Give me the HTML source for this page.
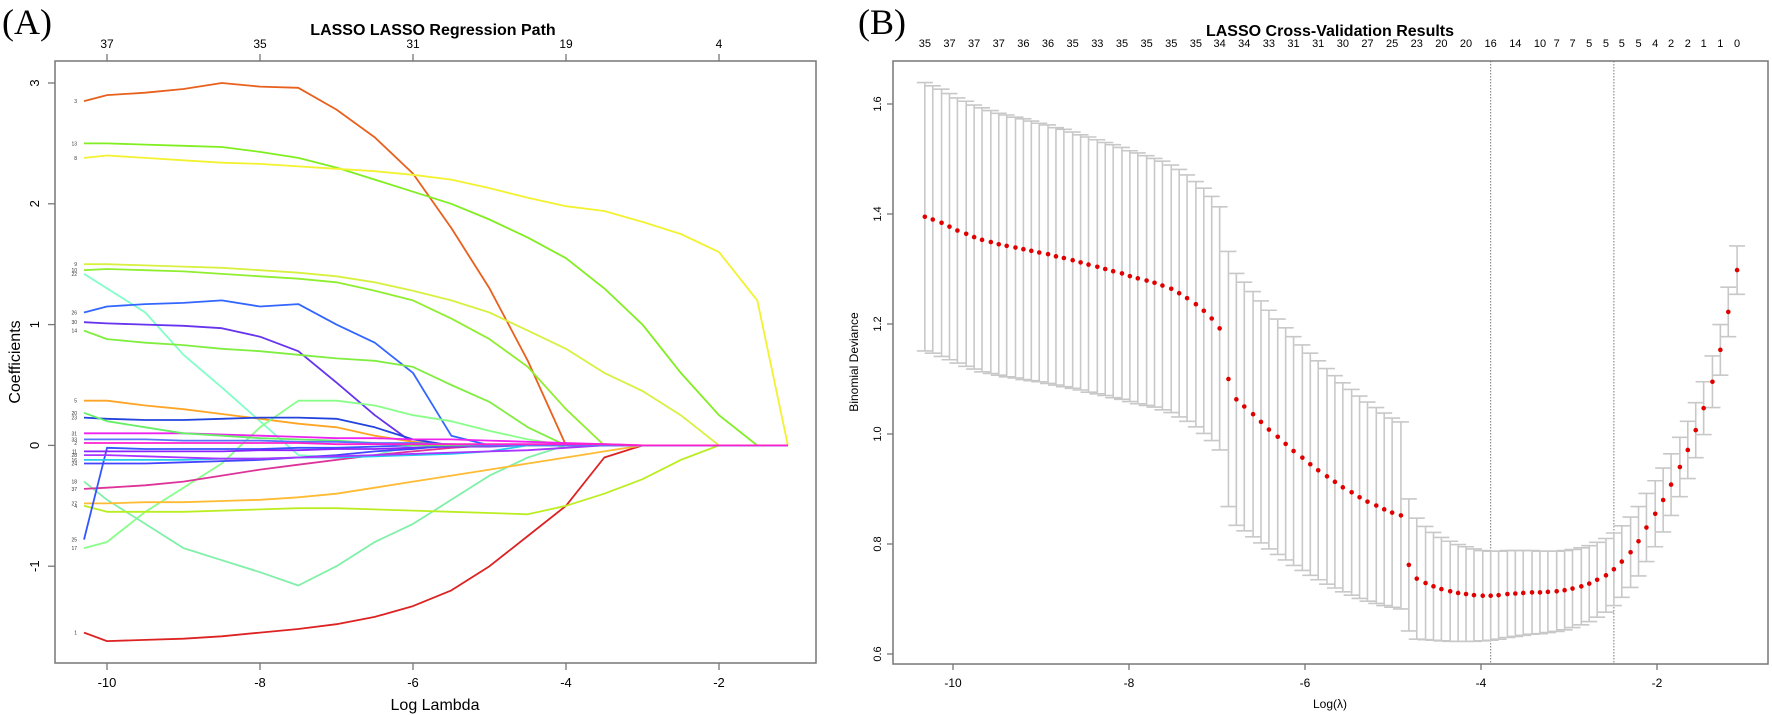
<!DOCTYPE html>
<html><head><meta charset="utf-8"><style>
html,body{margin:0;padding:0;background:#fff;}
svg{display:block;font-family:"Liberation Sans",Arial,sans-serif;}
</style></head><body>
<svg id="chart" width="1772" height="715" viewBox="0 0 1772 715" xmlns="http://www.w3.org/2000/svg">
<text x="2" y="34" font-family="Liberation Serif,serif" font-size="36">(A)</text>
<text x="858" y="34" font-family="Liberation Serif,serif" font-size="36">(B)</text>
<text x="433" y="35" font-size="16" font-weight="bold" text-anchor="middle">LASSO LASSO Regression Path</text>
<text x="1330" y="36" font-size="16" font-weight="bold" text-anchor="middle">LASSO Cross-Validation Results</text>
<text x="435" y="710" font-size="16" text-anchor="middle">Log Lambda</text>
<text x="1330" y="708" font-size="12" text-anchor="middle">Log(λ)</text>
<text transform="translate(20,362) rotate(-90)" font-size="16" text-anchor="middle">Coefficients</text>
<text transform="translate(858,362) rotate(-90)" font-size="12" text-anchor="middle">Binomial Deviance</text>
<g id="gA"></g>
<g id="gB"></g>
</svg>
<script>
// ---------- Panel A data ----------
const knotsA = [-10.3,-10,-9.5,-9,-8.5,-8,-7.5,-7,-6.5,-6,-5.5,-5,-4.5,-4,-3.5,-3,-2.5,-2,-1.5,-1.1];
const xTicksA = [-10,-8,-6,-4,-2];
const yTicksA = [3,2,1,0,-1];
const topTicksA = [-10,-8,-6,-4,-2];
const topLabelsA = ["37","35","31","19","4"];
const varNames = ["3","13","8","9","10","22","26","30","14","5","17","18","1","4","27","37","25","23","31","11","24","16","20","28","33","2"];
const varColors = ["#e8601c","#80ee20","#f2f230","#d8f040","#90ee30","#80ffc8","#3366ff","#6633ee","#80ee40","#ffa526","#88ff88","#80f0a8","#dd2222","#bbee22","#ffbb33","#dd3399","#3355ff","#2244dd","#ee22ee","#8822ff","#4444ff","#22ccee","#66ee66","#aa33ff","#5577ff","#ff22cc"];
const coef0 = [2.85,2.9,2.92,2.95,3.0,2.97,2.96,2.78,2.55,2.25,1.8,1.3,0.7,0,0,0,0,0,0,0];
const coef1 = [2.5,2.5,2.49,2.48,2.47,2.43,2.38,2.3,2.2,2.1,2.0,1.87,1.72,1.55,1.3,1.0,0.6,0.25,0,0];
const coef2 = [2.38,2.4,2.38,2.36,2.34,2.33,2.31,2.29,2.27,2.24,2.2,2.13,2.05,1.98,1.94,1.85,1.75,1.6,1.2,0];
const coef3 = [1.5,1.5,1.49,1.48,1.47,1.45,1.43,1.4,1.35,1.28,1.2,1.1,0.95,0.8,0.6,0.45,0.25,0,0,0];
const coef4 = [1.45,1.46,1.45,1.44,1.42,1.4,1.38,1.35,1.28,1.2,1.05,0.88,0.65,0.3,0,0,0,0,0,0];
const coef5 = [1.42,1.3,1.1,0.75,0.48,0.2,-0.08,-0.1,-0.08,0,0,0,0,0,0,0,0,0,0,0];
const coef6 = [1.1,1.15,1.17,1.18,1.2,1.15,1.17,1.0,0.85,0.6,0.08,0,0,0,0,0,0,0,0,0];
const coef7 = [1.02,1.01,1.0,0.99,0.97,0.9,0.78,0.52,0.25,0.02,0,0,0,0,0,0,0,0,0,0];
const coef8 = [0.95,0.88,0.85,0.83,0.8,0.78,0.75,0.72,0.7,0.65,0.5,0.36,0.15,0,0,0,0,0,0,0];
const coef9 = [0.37,0.37,0.33,0.3,0.26,0.22,0.18,0.15,0.08,0.03,0,0,0,0,0,0,0,0,0,0];
const coef10 = [-0.85,-0.8,-0.55,-0.35,-0.15,0.15,0.37,0.37,0.33,0.25,0.2,0.12,0.05,0,0,0,0,0,0,0];
const coef11 = [-0.3,-0.45,-0.65,-0.85,-0.95,-1.05,-1.16,-1.0,-0.8,-0.65,-0.45,-0.25,-0.1,0,0,0,0,0,0,0];
const coef12 = [-1.55,-1.62,-1.61,-1.6,-1.58,-1.55,-1.52,-1.48,-1.42,-1.33,-1.2,-1.0,-0.75,-0.5,-0.1,0,0,0,0,0];
const coef13 = [-0.5,-0.55,-0.55,-0.55,-0.54,-0.53,-0.52,-0.52,-0.53,-0.54,-0.55,-0.56,-0.57,-0.5,-0.4,-0.28,-0.12,0,0,0];
const coef14 = [-0.48,-0.48,-0.47,-0.47,-0.46,-0.45,-0.43,-0.4,-0.35,-0.3,-0.25,-0.2,-0.15,-0.1,-0.05,0,0,0,0,0];
const coef15 = [-0.36,-0.35,-0.33,-0.3,-0.25,-0.2,-0.16,-0.12,-0.08,-0.05,-0.02,0,0,0,0,0,0,0,0,0];
const coef16 = [-0.78,-0.02,-0.03,-0.03,-0.03,-0.03,-0.02,-0.02,-0.01,0,0,0,0,0,0,0,0,0,0,0];
const coef17 = [0.23,0.22,0.21,0.21,0.22,0.23,0.23,0.22,0.15,0.05,0,0,0,0,0,0,0,0,0,0];
const coef18 = [0.1,0.1,0.1,0.1,0.09,0.08,0.07,0.06,0.06,0.05,0.05,0.04,0.03,0.02,0.01,0,0,0,0,0];
const coef19 = [-0.05,-0.05,-0.05,-0.05,-0.05,-0.04,-0.04,-0.03,-0.03,-0.02,-0.01,-0.01,0,0,0,0,0,0,0,0];
const coef20 = [-0.15,-0.15,-0.15,-0.14,-0.13,-0.12,-0.1,-0.08,-0.05,-0.03,0,0,0,0,0,0,0,0,0,0];
const coef21 = [-0.12,-0.12,-0.12,-0.12,-0.11,-0.11,-0.1,-0.1,-0.09,-0.08,-0.07,-0.05,0,0,0,0,0,0,0,0];
const coef22 = [0.27,0.2,0.15,0.1,0.08,0.06,0.05,0.04,0.02,0,0,0,0,0,0,0,0,0,0,0];
const coef23 = [-0.08,-0.08,-0.09,-0.1,-0.11,-0.11,-0.1,-0.09,-0.08,-0.07,-0.06,-0.05,-0.04,-0.02,0,0,0,0,0,0];
const coef24 = [0.05,0.05,0.05,0.04,0.04,0.04,0.03,0.03,0.02,0.02,0.01,0,0,0,0,0,0,0,0,0];
const coef25 = [0.02,0.02,0.02,0.02,0.02,0.02,0.02,0.01,0.01,0.01,0.01,0.01,0.01,0.01,0.01,0,0,0,0,0];
const coefsA = [coef0,coef1,coef2,coef3,coef4,coef5,coef6,coef7,coef8,coef9,coef10,coef11,coef12,coef13,coef14,coef15,coef16,coef17,coef18,coef19,coef20,coef21,coef22,coef23,coef24,coef25];

// ---------- Panel B data ----------
const logLambda = [-10.32,-10.23,-10.13,-10.04,-9.95,-9.85,-9.76,-9.67,-9.57,-9.48,-9.39,-9.29,-9.20,-9.11,-9.02,-8.92,-8.83,-8.74,-8.64,-8.55,-8.46,-8.36,-8.27,-8.18,-8.08,-7.99,-7.90,-7.80,-7.71,-7.62,-7.52,-7.43,-7.34,-7.24,-7.15,-7.06,-6.97,-6.87,-6.78,-6.69,-6.59,-6.50,-6.41,-6.31,-6.22,-6.13,-6.03,-5.94,-5.85,-5.75,-5.66,-5.57,-5.47,-5.38,-5.29,-5.19,-5.10,-5.01,-4.91,-4.82,-4.73,-4.63,-4.54,-4.45,-4.35,-4.26,-4.17,-4.08,-3.98,-3.89,-3.80,-3.70,-3.61,-3.52,-3.42,-3.33,-3.24,-3.14,-3.05,-2.96,-2.86,-2.77,-2.68,-2.58,-2.49,-2.40,-2.30,-2.21,-2.12,-2.02,-1.93,-1.84,-1.74,-1.65,-1.56,-1.47,-1.37,-1.28,-1.19,-1.09];
const cvMean = [1.395,1.390,1.384,1.377,1.370,1.364,1.358,1.353,1.349,1.345,1.342,1.339,1.336,1.333,1.330,1.327,1.323,1.320,1.316,1.312,1.308,1.304,1.300,1.296,1.292,1.287,1.283,1.279,1.275,1.270,1.264,1.256,1.247,1.236,1.224,1.210,1.192,
1.100,1.063,1.050,1.036,1.022,1.008,0.995,0.982,0.969,0.957,0.945,0.934,0.923,0.913,0.903,0.894,0.885,0.877,0.870,0.863,0.857,0.852,
0.762,0.737,0.729,0.723,0.718,0.714,0.711,0.709,0.707,0.706,0.706,0.707,0.709,0.710,0.711,0.712,0.712,0.713,0.714,0.716,0.719,0.723,0.728,0.735,0.743,0.754,0.768,0.785,0.805,0.830,0.855,0.880,0.908,0.940,0.971,1.007,1.047,1.095,1.153,1.222,1.298];
const cvSE = [0.244,0.243,0.243,0.242,0.241,0.241,0.240,0.240,0.239,0.238,0.238,0.237,0.237,0.236,0.235,0.235,0.234,0.234,0.233,0.232,0.232,0.231,0.230,0.230,0.229,0.228,0.228,0.227,0.226,0.226,0.225,0.225,0.224,0.223,0.223,0.222,0.221,
0.232,0.229,0.226,0.223,0.220,0.217,0.214,0.211,0.208,0.205,0.202,0.199,0.196,0.193,0.190,0.187,0.184,0.181,0.178,0.175,0.172,0.170,
0.120,0.110,0.103,0.098,0.094,0.091,0.088,0.086,0.084,0.082,0.081,0.080,0.079,0.078,0.077,0.076,0.075,0.074,0.073,0.072,0.071,0.070,0.069,0.068,0.067,0.066,0.065,0.064,0.063,0.062,0.060,0.058,0.056,0.054,0.052,0.050,0.048,0.047,0.046,0.045,0.044];
const topLabelIdxB = [0,3,6,9,12,15,18,21,24,27,30,33,36,39,42,45,48,51,54,57,60,63,66,69,72,75,77,79,81,83,85,87,89,91,93,95,97,99];
const topLabelsB = ["35","37","37","37","36","36","35","33","35","35","35","35","34","34","33","31","31","30","27","25","23","20","20","16","14","10","7","7","5","5","5","5","4","2","2","1","1","0"];
const xTicksB = [-10,-8,-6,-4,-2];
const yTicksB = [0.6,0.8,1.0,1.2,1.4,1.6];
const lambdaMin = -3.89;
const lambda1se = -2.49;

const NS = "http://www.w3.org/2000/svg";
function mk(parent, tag, attrs){const e=document.createElementNS(NS,tag);for(const k in attrs)e.setAttribute(k,attrs[k]);parent.appendChild(e);return e;}

// ---------- Panel A ----------
const A = {l:55,r:816,t:61,b:663};
const xA = v => 107 + (v + 10) * 76.5;
const yA = v => 83 + (3 - v) * 120.8;
const gA = document.getElementById('gA');
const boxA = mk(gA,'rect',{x:A.l,y:A.t,width:A.r-A.l,height:A.b-A.t,fill:'none',stroke:'#777','stroke-width':1.5});


xTicksA.forEach(v=>{
  const t=mk(gA,'line',{x1:xA(v),x2:xA(v),y1:A.b,y2:A.b+7,stroke:'#777','stroke-width':1.3});
  
  
  const lb=mk(gA,'text',{x:xA(v),y:A.b+24,'font-size':13,'text-anchor':'middle'});
  lb.textContent=String(v);
  
  
});
yTicksA.forEach(v=>{
  const t=mk(gA,'line',{x1:A.l-7,x2:A.l,y1:yA(v),y2:yA(v),stroke:'#777','stroke-width':1.3});
  
  
  const lb=mk(gA,'text',{transform:`translate(${A.l-16},${yA(v)}) rotate(-90)`,'font-size':13,'text-anchor':'middle'});
  lb.textContent=String(v);
  
  
});
topTicksA.forEach((v,i)=>{
  const t=mk(gA,'line',{x1:xA(v),x2:xA(v),y1:A.t-7,y2:A.t,stroke:'#777','stroke-width':1.3});
  
  
  const lb=mk(gA,'text',{x:xA(v),y:A.t-13,'font-size':12,'text-anchor':'middle'});
  lb.textContent=topLabelsA[i];
  
  
});
coefsA.forEach((arr,si)=>{
  const pts=arr.map((v,i)=>xA(knotsA[i]).toFixed(1)+','+yA(v).toFixed(1)).join(' ');
  const pl=mk(gA,'polyline',{points:pts,fill:'none',stroke:varColors[si],'stroke-width':1.8,'stroke-linejoin':'round'});
  
  
  const lb=mk(gA,'text',{x:xA(knotsA[0])-7,y:yA(arr[0])+2,'font-size':5,'text-anchor':'end',fill:'#333'});
  lb.textContent=varNames[si];
  
  
});

// ---------- Panel B ----------
const B = {l:893,r:1768,t:61,b:664};
const xB = v => 953 + (v + 10) * 88;
const yB = v => 654 - (v - 0.6) * 550;
const gB = document.getElementById('gB');
const boxB = mk(gB,'rect',{x:B.l,y:B.t,width:B.r-B.l,height:B.b-B.t,fill:'none',stroke:'#777','stroke-width':1.5});


xTicksB.forEach(v=>{
  const t=mk(gB,'line',{x1:xB(v),x2:xB(v),y1:B.b,y2:B.b+6,stroke:'#777','stroke-width':1.3});
  
  
  const lb=mk(gB,'text',{x:xB(v),y:B.b+23,'font-size':12,'text-anchor':'middle'});
  lb.textContent=String(v);
  
  
});
yTicksB.forEach(v=>{
  const t=mk(gB,'line',{x1:B.l-6,x2:B.l,y1:yB(v),y2:yB(v),stroke:'#777','stroke-width':1.3});
  
  
  const lb=mk(gB,'text',{transform:`translate(${B.l-12},${yB(v)}) rotate(-90)`,'font-size':11,'text-anchor':'middle'});
  lb.textContent=v.toFixed(1);
  
  
});
topLabelIdxB.forEach((idx,i)=>{
  const lb=mk(gB,'text',{x:xB(logLambda[idx]),y:B.t-14,'font-size':11,'text-anchor':'middle'});
  lb.textContent=topLabelsB[i];
  
  
});
[lambdaMin,lambda1se].forEach((v,i)=>{
  const l=mk(gB,'line',{x1:xB(v),x2:xB(v),y1:B.t,y2:B.b,stroke:'#777','stroke-width':1,'stroke-dasharray':'1.5,1.5'});
  
  
});
logLambda.forEach((lv,i)=>{
  const x=xB(lv), hi=yB(cvMean[i]+cvSE[i]), lo=yB(cvMean[i]-cvSE[i]);
  const g=mk(gB,'g',{stroke:'#c8c8c8','stroke-width':1.6});
  
  
  mk(g,'line',{x1:x,x2:x,y1:hi,y2:lo});
  mk(g,'line',{x1:x-8,x2:x+8,y1:hi,y2:hi});
  mk(g,'line',{x1:x-8,x2:x+8,y1:lo,y2:lo});
});
logLambda.forEach((lv,i)=>{
  const c=mk(gB,'circle',{cx:xB(lv),cy:yB(cvMean[i]),r:2.3,fill:'#e00000'});
  
  
});
</script>
</body></html>
